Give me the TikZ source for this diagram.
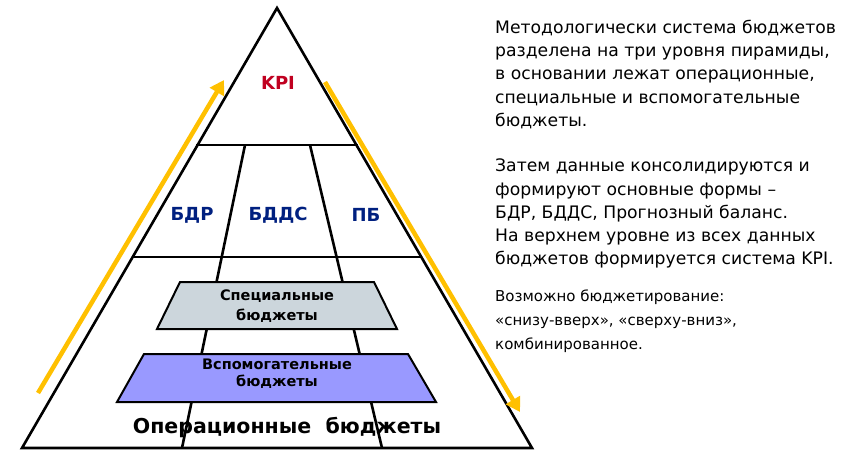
\documentclass[tikz,border=0pt]{standalone}
\usepackage{fontspec}
\setmainfont{DejaVu Sans}
\begin{document}
\begin{tikzpicture}[x=1pt,y=-1pt,
  ln/.style={black,line width=2.6pt},
  arr/.style={draw={rgb,255:red,255;green,192;blue,0},line width=4.5pt,-{Triangle[length=14pt,width=16pt]}},
  lbl/.style={font=\bfseries\fontsize{18}{20}\selectfont},
  rt/.style={anchor=north west,align=left,inner sep=0pt,font=\fontsize{17.2}{23.2}\selectfont}]
\usetikzlibrary{arrows.meta}
\useasboundingbox (0,0) rectangle (859,461);
\coordinate (A) at (277,8);
\coordinate (L) at (22,448);
\coordinate (R) at (532,448);
\draw[ln,fill=white,line join=miter] (A) -- (L) -- (R) -- cycle;
\draw[ln] (196,145) -- (358,145);
\draw[ln] (134,257) -- (422,257);
\draw[ln] (245,145) -- (182,448);
\draw[ln] (310,145) -- (382,448);
\draw[line width=2pt,fill={rgb,255:red,204;green,214;blue,220}] (180,282) -- (374,282) -- (397,329) -- (157,329) -- cycle;
\draw[line width=2pt,fill={rgb,255:red,153;green,153;blue,255}] (144,354) -- (408,354) -- (436,402) -- (117,402) -- cycle;
\node[font=\bfseries\fontsize{14.5}{20}\selectfont,align=center] (sp) at (277,306) {Специальные\\бюджеты};
\node[font=\bfseries\fontsize{14.5}{17}\selectfont,align=center] (vs) at (277,374) {Вспомогательные\\бюджеты};
\node[font=\bfseries\fontsize{20.5}{22}\selectfont] (op) at (287,428) {Операционные\ \ бюджеты};
\node[lbl,text={rgb,255:red,192;green,0;blue,32}] (kpi) at (278,83) {KPI};
\node[lbl,text={rgb,255:red,0;green,32;blue,128}] (bdr) at (192,215) {БДР};
\node[lbl,text={rgb,255:red,0;green,32;blue,128}] (bdds) at (278,215) {БДДС};
\node[lbl,text={rgb,255:red,0;green,32;blue,128}] (pb) at (366,215) {ПБ};
\coordinate (a1) at (38,393); \coordinate (a2) at (224,80);
\coordinate (b1) at (325,82); \coordinate (b2) at (520,412);
\draw[arr] (a1) -- (a2);
\draw[arr] (b1) -- (b2);
\node[rt] (t1) at (495,20) {Методологически система бюджетов\\разделена на три уровня пирамиды,\\в основании лежат операционные,\\специальные и вспомогательные\\бюджеты.};
\node[rt] (t2) at (495,159) {Затем данные консолидируются и\\формируют основные формы –\\БДР, БДДС, Прогнозный баланс.\\На верхнем уровне из всех данных\\бюджетов формируется система KPI.};
\node[rt,font=\fontsize{15}{24}\selectfont] (t3) at (495,290) {Возможно бюджетирование:\\«снизу-вверх», «сверху-вниз»,\\комбинированное.};
\end{tikzpicture}
\end{document}
